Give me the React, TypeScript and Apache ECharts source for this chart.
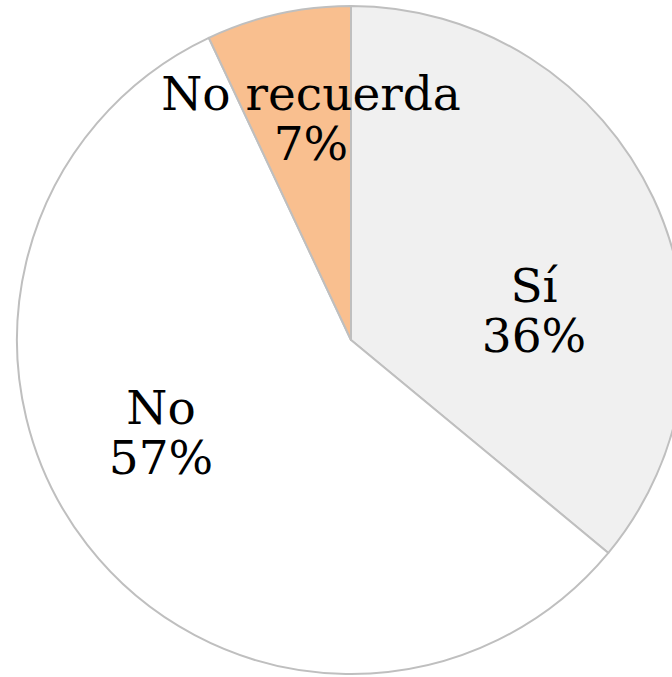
import React, { useEffect, useRef } from "react";
import * as echarts from "echarts";

const categories = ["Sí", "No", "No recuerda"];
const values = [36, 57, 7];
const colors = ["#f0f0f0", "#ffffff", "#f9bf8f"];
const labelCenters: [number, number][] = [
  [534, 310],
  [161, 432],
  [311, 118],
];

export default function App() {
  const ref = useRef<HTMLDivElement>(null);
  useEffect(() => {
    if (!ref.current) return;
    const chart = echarts.init(ref.current, undefined, { renderer: "svg" });
    chart.setOption({
      animation: false,
      backgroundColor: "#ffffff",
      series: [
        {
          type: "pie",
          center: [351, 340],
          radius: 334,
          startAngle: 90,
          clockwise: true,
          avoidLabelOverlap: false,
          itemStyle: { borderColor: "#bfbfbf", borderWidth: 2 },
          label: {
            show: true,
            position: "inside",
            formatter: (p: any) => `${p.name}\n${p.value}%`,
            fontFamily: "DejaVu Serif",
            fontSize: 47,
            lineHeight: 50,
            color: "#000000",
            align: "center",
            verticalAlign: "middle",
          },
          labelLine: { show: false },
          labelLayout: (p: any) => ({
            x: labelCenters[p.dataIndex][0],
            y: labelCenters[p.dataIndex][1],
            align: "center",
            verticalAlign: "middle",
          }),
          data: categories.map((c, i) => ({
            name: c,
            value: values[i],
            itemStyle: { color: colors[i] },
          })),
        },
      ],
    });
    return () => chart.dispose();
  }, []);
  return (
    <div
      ref={ref}
      style={{ position: "absolute", left: 0, top: 0, width: 672, height: 677 }}
    />
  );
}
